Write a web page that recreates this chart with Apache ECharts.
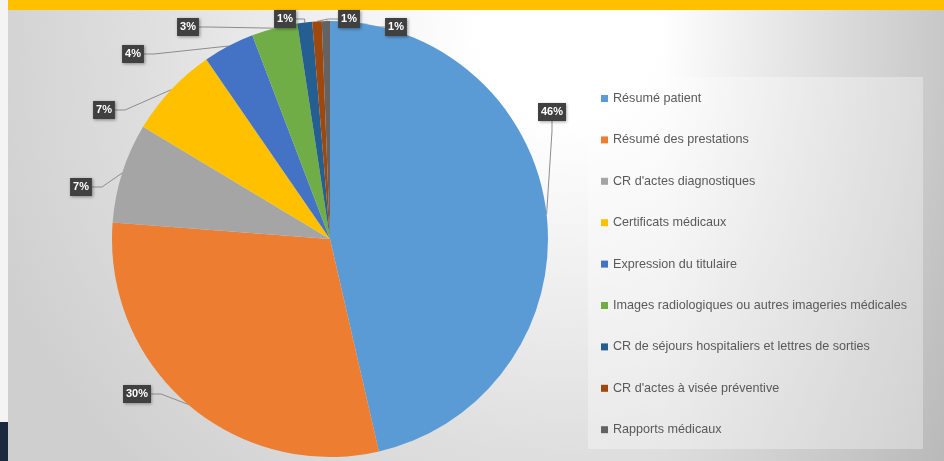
<!DOCTYPE html>
<html>
<head>
<meta charset="utf-8">
<script src="https://cdn.jsdelivr.net/npm/echarts@6/dist/echarts.min.js"></script>
<style>
  html, body { margin: 0; padding: 0; width: 944px; height: 461px; overflow: hidden; background: #f4f4f4; }
  #band { position: absolute; left: 8px; top: 0; width: 936px; height: 10px; background: #FFC000; }
  #bg { position: absolute; left: 8px; top: 10px; width: 936px; height: 451px;
        background:
          linear-gradient(to right, rgba(0,0,0,0) 70%, rgba(0,0,0,0.12) 100%),
          radial-gradient(circle at 560px 20px, #ffffff 0px, #ffffff 90px, #dedede 430px, #cfcfcf 620px); }
  #corner { position: absolute; left: 0; top: 422px; width: 8px; height: 39px; background: #1c2a40; }
  #chart { position: absolute; left: 0; top: 0; width: 944px; height: 461px; }
</style>
</head>
<body>
<div id="band"></div>
<div id="bg"></div>
<div id="corner"></div>
<div id="chart"></div>
<script>
// Categories and values (percent of total)
const categories = [
  "Résumé patient",
  "Résumé des prestations",
  "CR d'actes diagnostiques",
  "Certificats médicaux",
  "Expression du titulaire",
  "Images radiologiques ou autres imageries médicales",
  "CR de séjours hospitaliers et lettres de sorties",
  "CR d'actes à visée préventive",
  "Rapports médicaux"
];
const values = [46.4, 29.8, 7.4, 6.8, 3.8, 3.4, 1.1, 0.7, 0.6];
const colors = ["#5B9BD5", "#ED7D31", "#A5A5A5", "#FFC000", "#4472C4", "#70AD47", "#255E91", "#9E480E", "#636363"];

const chart = echarts.init(document.getElementById('chart'), null, { renderer: 'canvas' });

const data = categories.map((c, i) => ({ name: c, value: values[i], itemStyle: { color: colors[i] } }));

// data-label placement (label box centres, as arranged in the source chart)
const labelSpots = [
  [552, 112], [137, 394], [81, 187], [104, 110], [133, 54],
  [188, 27], [285, 19], [349, 19], [396, 27]
];

chart.setOption({
  backgroundColor: 'transparent',
  animation: false,
  graphic: [{
    type: 'rect',
    left: 588, top: 77,
    shape: { width: 335, height: 372 },
    style: { fill: 'rgba(255,255,255,0.32)' },
    z: -1
  }],
  legend: {
    orient: 'vertical',
    left: 596,
    top: 87,
    itemWidth: 7,
    itemHeight: 7,
    itemGap: 28.4,
    icon: 'rect',
    data: categories,
    textStyle: { fontFamily: 'Liberation Sans', fontSize: 12.6, color: '#595959' }
  },
  series: [{
    type: 'pie',
    center: [330, 239],
    radius: [0, 218],
    startAngle: 90,
    clockwise: true,
    avoidLabelOverlap: false,
    data: data,
    itemStyle: { borderWidth: 0 },
    label: {
      position: 'outside',
      formatter: p => Math.round(p.percent) + '%',
      fontFamily: 'Liberation Sans',
      fontWeight: 'bold',
      fontSize: 11,
      color: '#ffffff',
      backgroundColor: '#404040',
      padding: [4, 3, 3, 3],
      shadowBlur: 3,
      shadowColor: 'rgba(0,0,0,0.4)',
      shadowOffsetX: 1,
      shadowOffsetY: 1
    },
    labelLine: {
      show: true,
      length: 10,
      length2: 10,
      lineStyle: { color: '#8c8c8c', width: 1 }
    },
    labelLayout: p => {
      const s = labelSpots[p.dataIndex];
      return { x: s[0], y: s[1], align: 'center', verticalAlign: 'middle' };
    },
    emphasis: { disabled: true }
  }]
});
</script>
</body>
</html>
